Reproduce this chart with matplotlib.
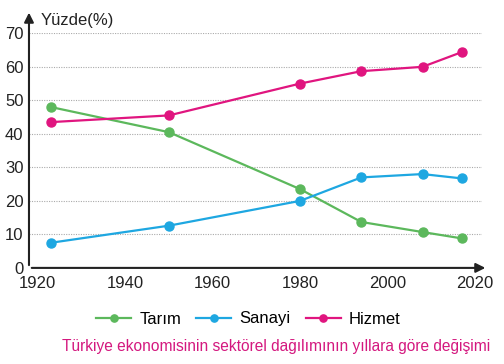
import matplotlib.pyplot as plt

plt.rcParams['font.family'] = ['Liberation Sans', 'DejaVu Sans']

# data
years = [1923, 1950, 1980, 1994, 2008, 2017]
tarim = [48, 40.5, 23.5, 13.7, 10.7, 8.8]
sanayi = [7.5, 12.6, 20, 27, 28, 26.7]
hizmet = [43.5, 45.5, 55, 58.7, 60, 64.4]
x_ticks = [1920, 1940, 1960, 1980, 2000, 2020]
y_ticks = [0, 10, 20, 30, 40, 50, 60, 70]

green = '#5cb85c'
blue = '#1ea7e1'
pink = '#e0157f'

fig = plt.figure(figsize=(5.04, 3.64), dpi=100)
ax = fig.add_axes([0.0575, 0.264, 0.898, 0.6445])

for vals, col, name in [(tarim, green, 'Tarım'), (sanayi, blue, 'Sanayi'), (hizmet, pink, 'Hizmet')]:
    ax.plot(years, vals, color=col, lw=1.6, marker='o', ms=6.5, label=name, zorder=3)

ax.set_xlim(1918, 2021.5)
ax.set_ylim(0, 70)
ax.set_xticks(x_ticks)
ax.set_yticks(y_ticks)
ax.tick_params(length=0, labelsize=12, pad=6, colors='#222222')
ax.tick_params(axis='y', pad=4)
ax.grid(axis='y', color='#aaaaaa', ls=(0, (1, 1.2)), lw=0.8)
ax.set_axisbelow(True)
for s in ['top', 'right', 'left', 'bottom']:
    ax.spines[s].set_visible(False)

# axes with arrows
ax.annotate('', xy=(1918, 77), xytext=(1918, 0), xycoords='data',
            arrowprops=dict(arrowstyle='-|>', color='#222222', lw=1.5, mutation_scale=14),
            annotation_clip=False)
ax.annotate('', xy=(2023, 0), xytext=(1918, 0), xycoords='data',
            arrowprops=dict(arrowstyle='-|>', color='#222222', lw=1.5, mutation_scale=14),
            annotation_clip=False)

fig.text(41 / 504, 1 - 21 / 364, 'Yüzde(%)', fontsize=12, va='center', ha='left', color='#222222')

fig.legend(loc='center', bbox_to_anchor=(0.493, 1 - 319 / 364), ncol=3, frameon=False,
           fontsize=12, handlelength=2.1, columnspacing=0.9, handletextpad=0.5, markerscale=0.8)

fig.text(0.548, 1 - 346 / 364, 'Türkiye ekonomisinin sektörel dağılımının yıllara göre değişimi',
         fontsize=11.2, color='#d4187f', ha='center', va='center')

fig.savefig('out.png', dpi=100)
